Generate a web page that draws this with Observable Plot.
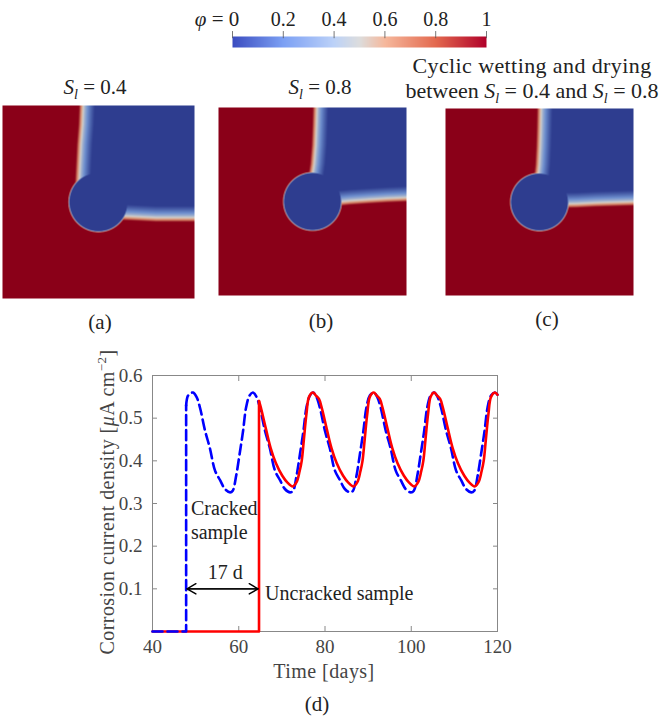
<!DOCTYPE html>
<html lang="en">
<head>
<meta charset="utf-8">
<title>Corrosion of cracked and uncracked samples</title>
<script src="https://cdn.jsdelivr.net/npm/d3@7"></script>
<script src="https://cdn.jsdelivr.net/npm/@observablehq/plot@0.6"></script>
<style>
  body { margin: 0; background: #fff; }
  #figure { position: relative; width: 664px; height: 716px; overflow: hidden; font-family: "Liberation Serif", serif; color: #222; }
  #figure > div { position: absolute; }
  .lab { font-size: 21px; line-height: 25px; text-align: center; white-space: nowrap; transform: translateX(-50%); }
  .lab sub { font-size: 14px; line-height: 0; }
  .wide { font-size: 22px; }
  .wide span { letter-spacing: 0.4px; }
  .axis { font-size: 20px; letter-spacing: 0.45px; color: #444; }
  #ylabel { font-size: 20px; letter-spacing: 0.45px; color: #444; white-space: nowrap; transform: translate(-50%,-50%) rotate(-90deg); }
  #ylabel sup { font-size: 13px; line-height: 0; }
  svg { display: block; overflow: visible; }
</style>
</head>
<body>
<div id="figure"></div>
<script>
// colour bar
const barTicks = [0, 0.2, 0.4, 0.6, 0.8, 1];
const barLabels = [0.2, 0.4, 0.6, 0.8, 1];

// interface of each phase field (a), (b), (c)
const frontStops = [0.6, 0.7, 0.8, 0.9, 1];
const verticalA = [0.400, 0.405, 0.410, 0.418, 0.422];
const horizontalA = [0.430, 0.425, 0.420, 0.420, 0.420];
const verticalB = [0.495, 0.510, 0.518, 0.522, 0.525];
const horizontalB = [0.495, 0.505, 0.512, 0.518, 0.522];
const verticalC = [0.490, 0.500, 0.505, 0.508, 0.510];
const horizontalC = [0.490, 0.492, 0.497, 0.500, 0.503];
const pitRadius = 0.154;

// panel (d)
const blueDays = [40, 47.8, 47.8, 48.2, 48.8, 49.4, 50.2, 51, 52.2, 53.3, 54.5, 55.7, 56.8, 58, 58.6, 59.4, 60.2, 61, 61.7, 62.5, 63.3,
  64.1, 64.9, 66.1, 67.2, 68.4, 69.6, 70.7, 71.9, 72.6, 73.4, 74.2, 75, 75.7, 76.5, 77.2,
  78, 78.8, 80, 81.1, 82.3, 83.5, 84.6, 85.8, 86.5, 87.3, 88.1, 88.9, 89.6, 90.4, 91.3,
  92.1, 92.9, 94.1, 95.2, 96.4, 97.6, 98.7, 99.9, 100.6, 101.4, 102.2, 103, 103.7, 104.5, 105.3,
  106.1, 106.9, 108.1, 109.2, 110.4, 111.6, 112.7, 113.9, 114.6, 115.4, 116.2, 117, 117.7, 118.5, 119.4, 120];
const blueValues = [0, 0, 0.53, 0.552, 0.558, 0.56, 0.55, 0.525, 0.47, 0.43, 0.377, 0.354, 0.334, 0.326, 0.33, 0.365, 0.416, 0.47, 0.525, 0.553, 0.56,
  0.55, 0.525, 0.47, 0.43, 0.377, 0.354, 0.334, 0.326, 0.33, 0.365, 0.416, 0.47, 0.525, 0.553, 0.56,
  0.55, 0.525, 0.47, 0.43, 0.377, 0.354, 0.334, 0.326, 0.33, 0.365, 0.416, 0.47, 0.525, 0.553, 0.56,
  0.55, 0.525, 0.47, 0.43, 0.377, 0.354, 0.334, 0.326, 0.33, 0.365, 0.416, 0.47, 0.525, 0.553, 0.56,
  0.55, 0.525, 0.47, 0.43, 0.377, 0.354, 0.334, 0.326, 0.33, 0.365, 0.416, 0.47, 0.525, 0.553, 0.56, 0.555];
const redDays = [40, 64.7, 64.7, 65.1, 66.3, 67.4, 68.6, 70.1, 71.3, 72.5, 73.4, 74.1, 74.6, 75.1, 75.7, 76.3, 77.2,
  77.9, 78.6, 79.2, 80.4, 81.5, 82.7, 84.2, 85.4, 86.6, 87.5, 88.2, 88.7, 89.2, 89.8, 90.4, 91.3,
  92, 92.7, 93.3, 94.5, 95.6, 96.8, 98.3, 99.5, 100.7, 101.6, 102.3, 102.8, 103.3, 103.9, 104.5, 105.3,
  106, 106.7, 107.3, 108.5, 109.6, 110.8, 112.3, 113.5, 114.7, 115.6, 116.3, 116.8, 117.3, 117.9, 118.5, 119.4, 120];
const redValues = [0, 0, 0.54, 0.526, 0.475, 0.43, 0.395, 0.365, 0.349, 0.34, 0.35, 0.375, 0.40, 0.45, 0.51, 0.55, 0.56,
  0.553, 0.545, 0.526, 0.475, 0.43, 0.395, 0.365, 0.349, 0.34, 0.35, 0.375, 0.40, 0.45, 0.51, 0.55, 0.56,
  0.553, 0.545, 0.526, 0.475, 0.43, 0.395, 0.365, 0.349, 0.34, 0.35, 0.375, 0.40, 0.45, 0.51, 0.55, 0.56,
  0.553, 0.545, 0.526, 0.475, 0.43, 0.395, 0.365, 0.349, 0.34, 0.35, 0.375, 0.40, 0.45, 0.51, 0.55, 0.56, 0.555];
const xTicks = [40, 60, 80, 100, 120];
const yTicks = [0.1, 0.2, 0.3, 0.4, 0.5, 0.6];
const notes = [
  {day: 48.9, value: 0.287, text: "Cracked"},
  {day: 48.9, value: 0.232, text: "sample"},
  {day: 52.8, value: 0.137, text: "17 d"},
  {day: 66.1, value: 0.088, text: "Uncracked sample"}
];
const gap = [{from: 48, to: 64.5, value: 0.1}];

const figure = document.getElementById("figure");
const blue = blueDays.map((day, i) => ({day, value: blueValues[i]}));
const red = redDays.map((day, i) => ({day, value: redValues[i]}));

function place(node, left, top) {
  const div = document.createElement("div");
  div.style.left = left + "px";
  div.style.top = top + "px";
  div.appendChild(node);
  figure.appendChild(div);
}

function label(html, center, top, extra) {
  const div = document.createElement("div");
  div.className = extra ? "lab " + extra : "lab";
  div.style.left = center + "px";
  div.style.top = top + "px";
  div.innerHTML = html;
  figure.appendChild(div);
}

// phase field from the two fronts and the pit
function field(vertical, horizontal) {
  const frontX = d3.scaleLinear(frontStops, vertical).clamp(true);
  const frontY = d3.scaleLinear(frontStops, horizontal).clamp(true);
  const ramp = (d, wide, narrow) => d > 0
    ? 0.5 - 0.5 * Math.pow(Math.min(1, d / wide), 0.7)
    : 0.5 + 0.5 * Math.min(1, -d / narrow);
  return (x, y) => {
    const front = Math.min(x - frontX(y), y - frontY(x));
    const pit = pitRadius - Math.hypot(x - 0.5, y - 0.5);
    return Math.min(ramp(front, 0.06, 0.024), ramp(pit, 0.004, 0.004));
  };
}

function panel(vertical, horizontal, left, top, width, height) {
  place(Plot.plot({
    width, height, margin: 0,
    x: {domain: [0, 1], axis: null},
    y: {domain: [0, 1], axis: null},
    color: {type: "linear", domain: [0, 0.25, 0.5, 0.75, 1], range: ["#2e3d8f", "#6f90cf", "#d4d2cc", "#d98a6a", "#8a0018"]},
    marks: [Plot.raster({x1: 0, x2: 1, y1: 0, y2: 1, pixelSize: 0.5, fill: field(vertical, horizontal)})]
  }), left, top);
}

// colour bar
place(Plot.plot({
  width: 254, height: 11, margin: 0,
  x: {domain: [0, 1], axis: null},
  y: {domain: [0, 1], axis: null},
  color: {type: "linear", domain: [0, 0.2, 0.4, 0.5, 0.6, 0.8, 1], range: ["#3b4cc0", "#7ca0f4", "#bcd2f8", "#dddddd", "#f6b89c", "#e3694f", "#b0002a"]},
  marks: [
    Plot.raster({x1: 0, x2: 1, y1: 0, y2: 1, fill: (x) => x}),
    Plot.ruleX(barTicks, {y1: 0.8, y2: 1.45, stroke: "#555", strokeWidth: 0.8}),
    Plot.text(barLabels, {x: (d) => d, y: 2.55, text: (d) => d === 1 ? "1" : d.toFixed(1), fontSize: 20, fill: "#222", fontFamily: "Liberation Serif"})
  ]
}), 232, 36);
label("<i>φ</i> = 0", 217, 7);

panel(verticalA, horizontalA, 2, 105, 192, 193);
panel(verticalB, horizontalB, 218, 107, 188, 188);
panel(verticalC, horizontalC, 445, 108, 188, 187);

label("<i>S<sub>l</sub></i> = 0.4", 95, 75);
label("<i>S<sub>l</sub></i> = 0.8", 320, 75);
label("<span>Cyclic wetting and drying</span><br>between <i>S<sub>l</sub></i> = 0.4 and <i>S<sub>l</sub></i> = 0.8", 532, 53, "wide");
label("(a)", 100, 310);
label("(b)", 321, 309);
label("(c)", 547, 307);
label("(d)", 317, 692);
label("Time [days]", 324, 659, "axis");

// panel (d)
const lineWidth = 2.6;
place(Plot.plot({
  width: 664, height: 366,
  marginLeft: 152, marginRight: 167, marginTop: 25, marginBottom: 85,
  style: {fontFamily: "Liberation Serif", background: "transparent"},
  x: {domain: [40, 120]},
  y: {domain: [0, 0.6]},
  marks: [
    Plot.frame({stroke: "#888", strokeWidth: 1}),
    Plot.axisX(xTicks, {anchor: "bottom", tickSize: -5, tickPadding: 13, fontSize: 19, stroke: "#888", fill: "#444", label: null}),
    Plot.axisX(xTicks, {anchor: "top", tickSize: -5, tickFormat: () => "", stroke: "#888", label: null}),
    Plot.axisY(yTicks, {anchor: "left", tickSize: -5, tickPadding: 15, tickFormat: ".1f", fontSize: 19, stroke: "#888", fill: "#444", label: null}),
    Plot.axisY(yTicks, {anchor: "right", tickSize: -5, tickFormat: () => "", stroke: "#888", label: null}),
    Plot.line(blue.slice(2), {x: "day", y: "value", curve: "catmull-rom", stroke: "#0000ff", strokeWidth: lineWidth, strokeDasharray: "10,5"}),
    Plot.line(red.slice(2), {x: "day", y: "value", curve: "catmull-rom", stroke: "#ff0000", strokeWidth: lineWidth}),
    Plot.line(red.slice(0, 3), {x: "day", y: "value", stroke: "#ff0000", strokeWidth: lineWidth}),
    Plot.line(blue.slice(0, 3), {x: "day", y: "value", stroke: "#0000ff", strokeWidth: lineWidth, strokeDasharray: "10,5"}),
    Plot.arrow(gap, {x1: "from", x2: "to", y1: "value", y2: "value", stroke: "#000", strokeWidth: 1.4, headLength: 11}),
    Plot.arrow(gap, {x1: "to", x2: "from", y1: "value", y2: "value", stroke: "#000", strokeWidth: 1.4, headLength: 11}),
    Plot.text(notes, {x: "day", y: "value", text: "text", textAnchor: "start", fontSize: 20, fill: "#222"})
  ]
}), 0, 350);

const ylabel = document.createElement("div");
ylabel.id = "ylabel";
ylabel.style.left = "107px";
ylabel.style.top = "502px";
ylabel.innerHTML = "Corrosion current density [<i>μ</i>A cm<sup>−2</sup>]";
figure.appendChild(ylabel);
</script>
</body>
</html>
